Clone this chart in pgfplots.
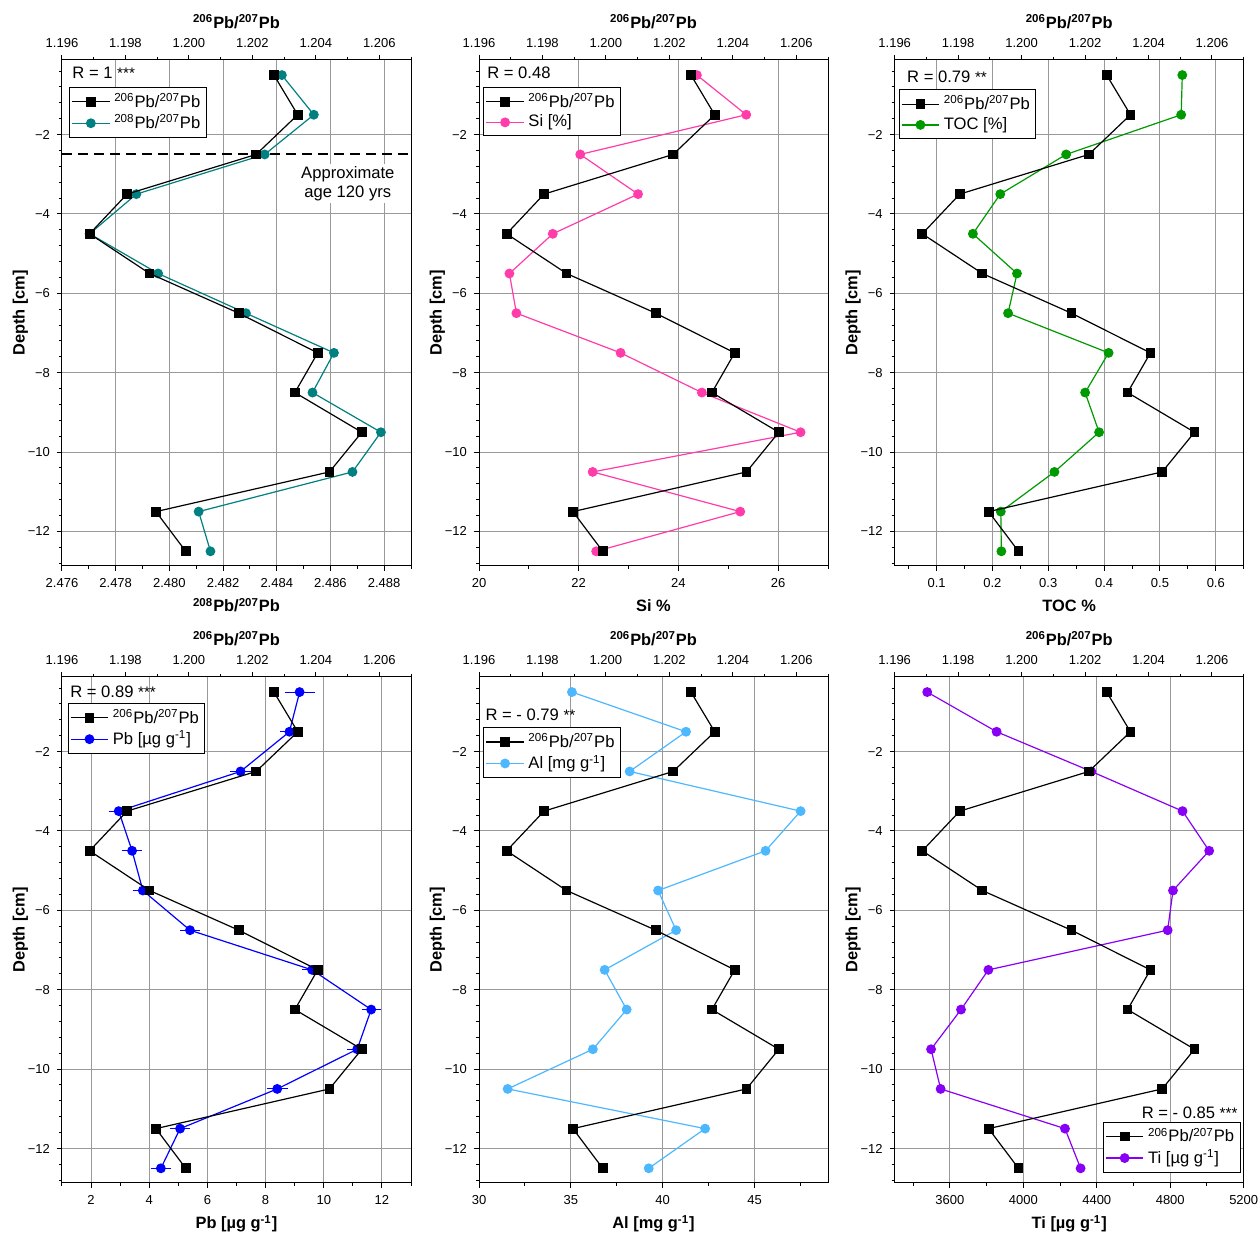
\documentclass[border=0pt]{standalone}
\usepackage{fontspec}
\setmainfont{Liberation Sans}
\usepackage{pgfplots}
\usepackage{pgfplotstable}
\pgfplotsset{compat=1.18}

\definecolor{tealc}{RGB}{0,128,128}
\definecolor{pinkc}{RGB}{255,60,170}
\definecolor{greenc}{RGB}{0,153,0}
\definecolor{bluec}{RGB}{0,0,255}
\definecolor{lbluec}{RGB}{77,184,255}
\definecolor{purplec}{RGB}{135,0,245}

\pgfplotstableread{
d r206 r208 si toc pb pberr al ti
-0.5 1.20268 2.48419 24.37 0.540 9.17 0.43 35.06 3477
-1.5 1.20343 2.48538 25.36 0.538 8.82 0.22 41.27 3855
-2.5 1.20212 2.48355 22.03 0.332 7.14 0.26 38.20 4370
-3.5 1.19805 2.47877 23.19 0.214 2.95 0.25 47.51 4867
-4.5 1.19687 2.47703 21.48 0.165 3.41 0.25 45.60 5012
-5.5 1.19876 2.47958 20.61 0.244 3.78 0.25 39.75 4815
-6.5 1.20157 2.48285 20.75 0.228 5.40 0.25 40.73 4786
-7.5 1.20406 2.48613 22.84 0.408 9.60 0.25 36.84 3810
-8.5 1.20334 2.48533 24.47 0.366 11.63 0.24 38.04 3661
-9.5 1.20545 2.48788 26.45 0.391 11.15 0.25 36.20 3498
-10.5 1.20443 2.48682 22.28 0.311 8.40 0.27 31.56 3550
-11.5 1.19896 2.48109 25.24 0.215 5.06 0.25 42.31 4227
-12.5 1.19990 2.48153 22.35 0.216 4.40 0.26 39.24 4312
}\data

\tikzset{
  blk/.style={black, line width=0.6pt, mark=square*, mark size=2.15pt, mark options={solid}},
  cir/.style={#1, line width=0.6pt, mark=*, mark size=2.15pt, mark options={solid, fill=#1}},
  rnode/.style={font=\fontsize{8.3}{9.5}\selectfont, inner sep=1pt},
}

\pgfplotsset{
  panel/.style={
    scale only axis, width=174.5pt, height=253pt,
    ymin=-12.87, ymax=-0.12,
    tick align=outside,
    major tick length=2.5pt, minor tick length=1.5pt,
    every tick/.style={black, line width=0.5pt},
    axis line style={black, line width=0.5pt},
    tick label style={font=\fontsize{6.5}{7.5}\selectfont},
    label style={font=\bfseries\fontsize{8.2}{9.8}\selectfont},
    /pgf/number format/assume math mode=true,
  },
  botax/.style={
    panel,
    xtick pos=left, ytick pos=left,
    ytick={-12,-10,-8,-6,-4,-2},
    yticklabels={−12,−10,−8,−6,−4,−2},
    minor ytick={-12.8,-12.4,-11.6,-11.2,-10.8,-10.4,-9.6,-9.2,-8.8,-8.4,-7.6,-7.2,-6.8,-6.4,-5.6,-5.2,-4.8,-4.4,-3.6,-3.2,-2.8,-2.4,-1.6,-1.2,-0.8,-0.4},
    xmajorgrids, ymajorgrids,
    major grid style={black!40, line width=0.5pt},
    ylabel={Depth [cm]},
    ylabel style={at={(axis description cs:-0.107,0.5)}, anchor=base},
    xlabel style={at={(axis description cs:0.5,-0.0903)}, anchor=base},
  },
  topax/.style={
    panel,
    xmin=1.196, xmax=1.207,
    xtick={1.196,1.198,1.200,1.202,1.204,1.206},
    xticklabels={1.196,1.198,1.200,1.202,1.204,1.206},
    minor xtick={1.197,1.199,1.201,1.203,1.205,1.207},
    xtick pos=right, xticklabel pos=right,
    ytick=\empty,
    xlabel={\textsuperscript{206}Pb/\textsuperscript{207}Pb},
    xlabel style={at={(axis description cs:0.5,1.0627)}, anchor=base},
    legend cell align=left,
    legend style={draw=black, line width=0.5pt, fill=white,
      font=\fontsize{8.3}{9.5}\selectfont, inner xsep=1pt, inner ysep=1pt,
      row sep=-1.6pt},
    legend image code/.code={\draw[mark repeat=2,mark phase=2,##1] plot coordinates {(0pt,0pt) (9.4pt,0pt) (18.8pt,0pt)};},
  },
}

\newcommand{\stars}[1]{{\fontsize{7.6}{8}\selectfont #1}}

\begin{document}
\begin{tikzpicture}
\path[use as bounding box] (0,0) rectangle (629pt,617.5pt);

% ---------- Panel 1 ----------
\begin{axis}[botax, at={(31pt,334.5pt)}, anchor=south west,
  xmin=2.476, xmax=2.489,
  xtick={2.476,2.478,2.480,2.482,2.484,2.486,2.488},
  xticklabels={2.476,2.478,2.480,2.482,2.484,2.486,2.488},
  minor xtick={2.477,2.479,2.481,2.483,2.485,2.487,2.489},
  xlabel={\textsuperscript{208}Pb/\textsuperscript{207}Pb}]
\addplot[cir=tealc] table[x=r208,y=d]{\data};
\addplot[black, line width=1pt, dash pattern=on 5pt off 3pt] coordinates {(2.476,-2.5) (2.489,-2.5)};
\end{axis}
\begin{axis}[topax, at={(31pt,334.5pt)}, anchor=south west,
  legend style={at={(axis description cs:0.02,0.947)}, anchor=north west}]
\addplot[blk] table[x=r206,y=d]{\data};
\addlegendentry{\textsuperscript{206}Pb/\textsuperscript{207}Pb}
\addlegendimage{cir=tealc}
\addlegendentry{\textsuperscript{208}Pb/\textsuperscript{207}Pb}
\node[rnode, anchor=west] at (axis description cs:0.023,0.974) {R = 1 \stars{***}};
\node[rnode, align=center, fill=white] at (axis description cs:0.819,0.756) {Approximate\\age 120 yrs};
\end{axis}

% ---------- Panel 2 ----------
\begin{axis}[botax, at={(239.5pt,334.5pt)}, anchor=south west,
  xmin=20, xmax=27,
  xtick={20,22,24,26}, xticklabels={20,22,24,26},
  minor xtick={21,23,25,27},
  xlabel={Si \%}]
\addplot[cir=pinkc] table[x=si,y=d]{\data};
\end{axis}
\begin{axis}[topax, at={(239.5pt,334.5pt)}, anchor=south west,
  legend style={at={(axis description cs:0.012,0.947)}, anchor=north west}]
\addplot[blk] table[x=r206,y=d]{\data};
\addlegendentry{\textsuperscript{206}Pb/\textsuperscript{207}Pb}
\addlegendimage{cir=pinkc}
\addlegendentry{Si [\%]}
\node[rnode, anchor=west] at (axis description cs:0.017,0.974) {R = 0.48};
\end{axis}

% ---------- Panel 3 ----------
\begin{axis}[botax, at={(447.35pt,334.5pt)}, anchor=south west,
  xmin=0.025, xmax=0.65,
  xtick={0.1,0.2,0.3,0.4,0.5,0.6}, xticklabels={0.1,0.2,0.3,0.4,0.5,0.6},
  minor xtick={0.05,0.15,0.25,0.35,0.45,0.55,0.65},
  xlabel={TOC \%}]
\addplot[cir=greenc] table[x=toc,y=d]{\data};
\end{axis}
\begin{axis}[topax, at={(447.35pt,334.5pt)}, anchor=south west,
  legend style={at={(axis description cs:0.011,0.942)}, anchor=north west}]
\addplot[blk] table[x=r206,y=d]{\data};
\addlegendentry{\textsuperscript{206}Pb/\textsuperscript{207}Pb}
\addlegendimage{cir=greenc}
\addlegendentry{TOC [\%]}
\node[rnode, anchor=west] at (axis description cs:0.029,0.966) {R = 0.79 \stars{**}};
\end{axis}

% ---------- Panel 4 ----------
\begin{axis}[botax, at={(31pt,26pt)}, anchor=south west,
  xmin=1, xmax=13,
  xtick={2,4,6,8,10,12}, xticklabels={2,4,6,8,10,12},
  minor xtick={1,3,5,7,9,11,13},
  xlabel={Pb [µg g\textsuperscript{-1}]}]
\addplot[cir=bluec, error bars/.cd, x dir=both, x explicit,
  error bar style={bluec, line width=0.5pt},
  error mark options={bluec, mark size=1.3pt, line width=0.5pt}]
  table[x=pb,y=d,x error=pberr]{\data};
\end{axis}
\begin{axis}[topax, at={(31pt,26pt)}, anchor=south west,
  legend style={at={(axis description cs:0.016,0.949)}, anchor=north west}]
\addplot[blk] table[x=r206,y=d]{\data};
\addlegendentry{\textsuperscript{206}Pb/\textsuperscript{207}Pb}
\addlegendimage{cir=bluec}
\addlegendentry{Pb [µg g\textsuperscript{-1}]}
\node[rnode, anchor=west] at (axis description cs:0.017,0.971) {R = 0.89 \stars{***}};
\end{axis}

% ---------- Panel 5 ----------
\begin{axis}[botax, at={(239.5pt,26pt)}, anchor=south west,
  xmin=30, xmax=49,
  xtick={30,35,40,45}, xticklabels={30,35,40,45},
  minor xtick={32.5,37.5,42.5,47.5},
  xlabel={Al [mg g\textsuperscript{-1}]}]
\addplot[cir=lbluec] table[x=al,y=d]{\data};
\end{axis}
\begin{axis}[topax, at={(239.5pt,26pt)}, anchor=south west,
  legend style={at={(axis description cs:0.012,0.901)}, anchor=north west}]
\addplot[blk] table[x=r206,y=d]{\data};
\addlegendentry{\textsuperscript{206}Pb/\textsuperscript{207}Pb}
\addlegendimage{cir=lbluec}
\addlegendentry{Al [mg g\textsuperscript{-1}]}
\node[rnode, anchor=west] at (axis description cs:0.012,0.925) {R = - 0.79 \stars{**}};
\end{axis}

% ---------- Panel 6 ----------
\begin{axis}[botax, at={(447.35pt,26pt)}, anchor=south west,
  xmin=3300, xmax=5200,
  xtick={3600,4000,4400,4800,5200}, xticklabels={3600,4000,4400,4800,5200},
  minor xtick={3400,3800,4200,4600,5000},
  xlabel={Ti [µg g\textsuperscript{-1}]}]
\addplot[cir=purplec] table[x=ti,y=d]{\data};
\end{axis}
\begin{axis}[topax, at={(447.35pt,26pt)}, anchor=south west,
  legend style={at={(axis description cs:0.991,0.020)}, anchor=south east}]
\addplot[blk] table[x=r206,y=d]{\data};
\addlegendentry{\textsuperscript{206}Pb/\textsuperscript{207}Pb}
\addlegendimage{cir=purplec}
\addlegendentry{Ti [µg g\textsuperscript{-1}]}
\node[rnode, anchor=east] at (axis description cs:0.989,0.139) {R = - 0.85 \stars{***}};
\end{axis}

\end{tikzpicture}
\end{document}
